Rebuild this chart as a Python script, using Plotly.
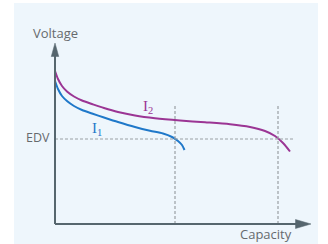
import plotly.graph_objects as go

# Curve data (capacity, voltage) in arbitrary units
i2_capacity = [0, 1.2, 2.8, 4.8, 7.6, 10.8, 14.8, 19.6, 25.2, 32, 40, 50, 60, 70, 78, 84, 88, 91.2, 94]
i2_voltage = [61.2, 58, 55.2, 53, 51, 49.4, 48, 46.4, 44.8, 43.4, 42.3, 41.4, 40.7, 39.9, 38.8, 37.2, 35.2, 32.4, 29]
i1_capacity = [0, 1.2, 2.8, 4.8, 7.6, 10.8, 14.8, 19.6, 25.2, 32, 38, 43.2, 46.8, 49.2, 50.8, 51.8]
i1_voltage = [57.2, 54, 51.2, 49.2, 47.2, 45.6, 44.2, 42.6, 40.8, 38.8, 37.3, 36.2, 34.8, 33.2, 31.6, 29.6]

edv_voltage = 34
i1_cutoff = 48
i2_cutoff = 89.2
guide_top = 47.6
edv_end = 95.2
x_axis_end = 102.4
y_axis_end = 72.4

AXIS = "#56666e"
DASH = "#9a9fa3"
PURPLE = "#9b3594"
BLUE = "#1f78c9"
TEXT = "#666a6d"

fig = go.Figure()
fig.add_trace(go.Scatter(x=i2_capacity, y=i2_voltage, mode="lines",
                         line=dict(color=PURPLE, width=2, shape="spline", smoothing=0.8),
                         hoverinfo="skip"))
fig.add_trace(go.Scatter(x=i1_capacity, y=i1_voltage, mode="lines",
                         line=dict(color=BLUE, width=2, shape="spline", smoothing=0.8),
                         hoverinfo="skip"))

shapes = [
    dict(type="rect", xref="paper", yref="paper", x0=14/328, x1=318/328, y0=-0.05, y1=1-3/244,
         fillcolor="#eef6fc", line=dict(width=0), layer="below"),
    # dashed guides
    dict(type="line", x0=0, x1=edv_end, y0=edv_voltage, y1=edv_voltage,
         line=dict(color=DASH, width=1.2, dash="3px,2px")),
    dict(type="line", x0=i1_cutoff, x1=i1_cutoff, y0=0, y1=guide_top,
         line=dict(color=DASH, width=1.2, dash="3px,2px")),
    dict(type="line", x0=i2_cutoff, x1=i2_cutoff, y0=0, y1=guide_top,
         line=dict(color=DASH, width=1.2, dash="3px,2px")),
    # axes
    dict(type="line", x0=0, x1=x_axis_end - 5, y0=0, y1=0, line=dict(color=AXIS, width=2)),
    dict(type="line", x0=0, x1=0, y0=0, y1=y_axis_end - 4, line=dict(color=AXIS, width=2)),
    dict(type="path", path=f"M {x_axis_end-6.2},1.8 L {x_axis_end},0 L {x_axis_end-6.2},-1.8 Z",
         fillcolor=AXIS, line=dict(color=AXIS, width=0.5)),
    dict(type="path", path=f"M -1.5,{y_axis_end-5.4} L 0,{y_axis_end} L 1.5,{y_axis_end-5.4} Z",
         fillcolor=AXIS, line=dict(color=AXIS, width=0.5)),
]

annotations = [
    dict(x=0, y=76.4, text="Voltage", showarrow=False, xanchor="center", yanchor="middle",
         font=dict(family="Open Sans", size=13, color=TEXT)),
    dict(x=84.4, y=-4, text="Capacity", showarrow=False, xanchor="center", yanchor="middle",
         font=dict(family="Open Sans", size=13, color=TEXT)),
    dict(x=-1.2, y=34.8, text="EDV", showarrow=False, xanchor="right", yanchor="middle",
         font=dict(family="Open Sans", size=12.5, color=TEXT)),
    dict(x=37.2, y=46.8, text="I<sub>2</sub>", showarrow=False, xanchor="center", yanchor="middle",
         font=dict(family="Liberation Serif", size=15, color=PURPLE)),
    dict(x=16.6, y=38, text="I<sub>1</sub>", showarrow=False, xanchor="center", yanchor="middle",
         font=dict(family="Liberation Serif", size=15, color=BLUE)),
]

fig.update_layout(
    width=328, height=244,
    margin=dict(l=0, r=0, t=0, b=0),
    paper_bgcolor="white", plot_bgcolor="rgba(0,0,0,0)",
    showlegend=False,
    xaxis=dict(range=[-22, 109.2], visible=False, fixedrange=True),
    yaxis=dict(range=[-8, 89.6], visible=False, fixedrange=True),
    shapes=shapes, annotations=annotations,
)

fig.write_html("out.html", config={"displayModeBar": False},
               post_script="document.body.style.margin='0';document.body.style.overflow='hidden';")
